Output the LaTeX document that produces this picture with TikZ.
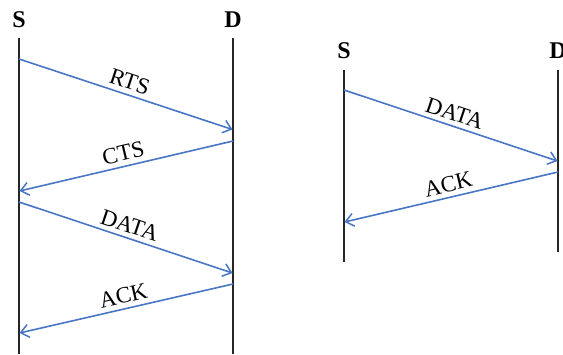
\documentclass[tikz,border=0pt]{standalone}
\usepackage{fontspec}
\setmainfont{Liberation Serif}
\usetikzlibrary{arrows.meta}
\definecolor{msgblue}{RGB}{72,118,196}
\tikzset{
  lifeline/.style={draw=black!85, line width=1.5pt},
  msg/.style={draw=msgblue, line width=1.6pt, -{Straight Barb[length=8pt,width=13pt,line width=1.5pt]}},
  msglabel/.style={font=\fontsize{23}{25}\selectfont, sloped, above, inner sep=4.5pt, midway},
  endname/.style={font=\fontsize{24}{26}\selectfont\bfseries, inner sep=0pt}
}
\begin{document}
\begin{tikzpicture}[x=1pt,y=-1pt]
\useasboundingbox (0,0) rectangle (563,354);
% left diagram
\node[endname] (S1) at (19,20) {S};
\node[endname] (D1) at (233,20) {D};
\coordinate (S1top) at (19,38);
\coordinate (S1bot) at (19,354);
\coordinate (D1top) at (233,38);
\coordinate (D1bot) at (233,354);
\draw[lifeline] (S1top) -- (S1bot);
\draw[lifeline] (D1top) -- (D1bot);
\coordinate (a1) at (19,59);   \coordinate (b1) at (232.5,129.5);
\coordinate (a2) at (233,141); \coordinate (b2) at (19.5,191);
\coordinate (a3) at (19,202);  \coordinate (b3) at (232.5,273);
\coordinate (a4) at (233,284); \coordinate (b4) at (19.5,333);
\draw[msg] (a1) -- node[msglabel] (rts) {RTS} (b1);
\draw[msg] (a2) -- node[msglabel] (cts) {CTS} (b2);
\draw[msg] (a3) -- node[msglabel] (data1) {DATA} (b3);
\draw[msg] (a4) -- node[msglabel] (ack1) {ACK} (b4);
% right diagram
\node[endname] (S2) at (344,51) {S};
\node[endname] (D2) at (558,51) {D};
\coordinate (S2top) at (344,70);
\coordinate (S2bot) at (344,262);
\coordinate (D2top) at (558,70);
\coordinate (D2bot) at (558,252);
\draw[lifeline] (S2top) -- (S2bot);
\draw[lifeline] (D2top) -- (D2bot);
\coordinate (a5) at (344,90);  \coordinate (b5) at (557.5,161);
\coordinate (a6) at (558,172); \coordinate (b6) at (344.5,222);
\draw[msg] (a5) -- node[msglabel] (data2) {DATA} (b5);
\draw[msg] (a6) -- node[msglabel] (ack2) {ACK} (b6);
\end{tikzpicture}
\end{document}
